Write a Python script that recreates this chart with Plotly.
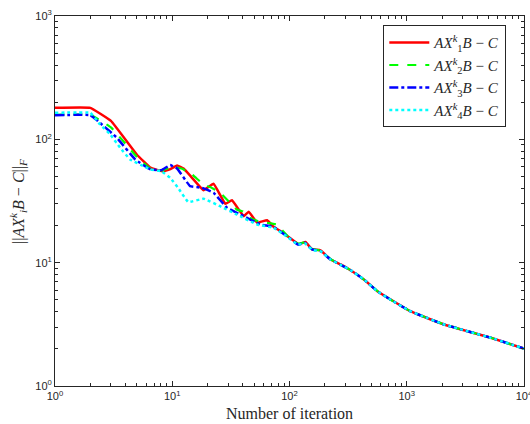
import plotly.graph_objects as go

# ---- data ----
red_iter = [1, 2, 3, 5, 6.5, 8.2, 9.5, 11, 12.5, 14.7, 18.5, 22.5, 28.4, 32.3, 40.7, 44.9, 52.9, 64.4, 73.4,
            84, 96, 120, 137, 156, 184, 224, 273, 332, 431, 561, 729, 1047, 1318, 2085, 3300, 5210, 10000]
red_val = [180, 180, 141, 75, 59, 55, 57, 61.4, 58, 49, 38.7, 43.6, 30, 32.1, 23.8, 25.9, 21.1, 22.1, 19.5,
           18, 16.4, 14.1, 14.7, 12.8, 12.6, 10.6, 9.67, 8.69, 7.31, 5.87, 5.03, 4.09, 3.73, 3.15, 2.78, 2.46, 2.01]

green_iter = [1, 2, 3, 5, 6.5, 8.2, 10, 12, 14.7, 18.5, 21, 25.6, 35.4, 40, 46, 55, 65, 78,
              96, 118, 135, 156, 184, 224, 273, 332, 431, 561, 729, 1047, 1318, 2085, 3300, 5210, 10000]
green_val = [158, 158, 125, 72, 58, 56, 60, 58, 52, 43, 41, 37, 27, 26, 23.1, 21.5, 21, 20.4,
             16.5, 14.3, 14.6, 12.9, 12.5, 10.7, 9.6, 8.7, 7.3, 5.9, 5.0, 4.1, 3.73, 3.15, 2.78, 2.46, 2.01]

blue_iter = [1, 2, 2.42, 3.37, 4.83, 6.5, 8.1, 9.6, 11, 14.2, 17.9, 22.5, 29.3, 38, 56.5, 73,
             96, 118, 135, 156, 184, 224, 273, 332, 431, 561, 729, 1047, 1318, 2085, 3300, 5210, 10000]
blue_val = [157, 157, 136, 103, 68.7, 57, 56.3, 61.8, 58, 41.7, 40.5, 36.9, 27.9, 24.6, 20.4, 19.5,
            16.3, 14.0, 14.5, 12.8, 12.4, 10.6, 9.6, 8.7, 7.3, 5.87, 5.0, 4.09, 3.73, 3.15, 2.78, 2.46, 2.01]

cyan_iter = [1, 2, 2.42, 2.95, 3.59, 4.37, 5.7, 6.5, 8.1, 9.6, 11.3, 13.7, 18.5, 25.6, 35.4, 52.9, 73,
             96, 118, 135, 156, 184, 224, 273, 332, 431, 561, 729, 1047, 1318, 2085, 3300, 5210, 10000]
cyan_val = [164, 164, 132, 110, 85.5, 68.7, 60.6, 57, 55, 48.8, 40, 31, 33, 28.7, 24.6, 20.4, 19.2,
            16.2, 14.0, 14.4, 12.7, 12.4, 10.6, 9.6, 8.7, 7.3, 5.87, 5.0, 4.09, 3.73, 3.15, 2.78, 2.46, 2.01]

series_names = [
    "<i>AX</i><sup><i>k</i></sup><sub>1</sub><i>B</i> − <i>C</i>",
    "<i>AX</i><sup><i>k</i></sup><sub>2</sub><i>B</i> − <i>C</i>",
    "<i>AX</i><sup><i>k</i></sup><sub>3</sub><i>B</i> − <i>C</i>",
    "<i>AX</i><sup><i>k</i></sup><sub>4</sub><i>B</i> − <i>C</i>",
]
x_title = "Number of iteration"
y_title = "||<i>AX</i><sup><i>k</i></sup><sub><i>i</i></sub><i>B</i> − <i>C</i>||<sub><i>F</i></sub>"

x_major = [1, 10, 100, 1000, 10000]
x_major_text = ["10<sup>0</sup>", "10<sup>1</sup>", "10<sup>2</sup>", "10<sup>3</sup>", "10<sup>4</sup>"]
y_major = [1, 10, 100, 1000]
y_major_text = ["10<sup>0</sup>", "10<sup>1</sup>", "10<sup>2</sup>", "10<sup>3</sup>"]

minor_x = [m * 10 ** e for e in range(0, 4) for m in range(2, 10)]
minor_y = [m * 10 ** e for e in range(0, 3) for m in range(2, 10)]

fig = go.Figure()
styles = [
    dict(color="#FF0000", width=2.5, dash="solid"),
    dict(color="#00FF00", width=2.2, dash="dash"),
    dict(color="#0000FF", width=2.5, dash="dashdot"),
    dict(color="#00FFFF", width=2.5, dash="dot"),
]
data = [(red_iter, red_val), (green_iter, green_val), (blue_iter, blue_val), (cyan_iter, cyan_val)]
for (xs, ys), name, st in zip(data, series_names, styles):
    fig.add_trace(go.Scatter(x=xs, y=ys, mode="lines", name=name,
                             line=dict(shape="spline", smoothing=0.25, **st)))

axis_common = dict(
    type="log", showgrid=False, zeroline=False, showline=True, linecolor="#262626", linewidth=1,
    mirror="ticks", ticks="inside", ticklen=5, tickcolor="#262626", automargin=False,
    ticklabeloverflow="allow",
    tickfont=dict(family="Liberation Sans, Arial, sans-serif", size=11, color="#262626"),
)

fig.update_xaxes(**axis_common, range=[0, 4], tickmode="array", tickvals=x_major, ticktext=x_major_text,
                 minor=dict(ticks="inside", ticklen=3, tickcolor="#262626", tickmode="array", tickvals=minor_x))
fig.update_yaxes(**axis_common, range=[0, 3], tickmode="array", tickvals=y_major, ticktext=y_major_text,
                 minor=dict(ticks="inside", ticklen=3, tickcolor="#262626", tickmode="array", tickvals=minor_y))

serif = "Liberation Serif, Times New Roman, serif"
fig.add_annotation(text=x_title, xref="paper", yref="paper", x=0.5, y=-0.074,
                   xanchor="center", yanchor="middle", showarrow=False,
                   font=dict(family=serif, size=16, color="#262626"))
fig.add_annotation(text=y_title, xref="paper", yref="paper", x=-0.079, y=0.5, textangle=-90,
                   xanchor="center", yanchor="middle", showarrow=False,
                   font=dict(family=serif, size=16, color="#262626"))

fig.update_layout(
    width=530, height=424,
    margin=dict(l=55, r=6, t=16, b=38, autoexpand=False),
    paper_bgcolor="white", plot_bgcolor="white",
    showlegend=True,
    legend=dict(x=0.70, y=0.975, xanchor="left", yanchor="top",
                bgcolor="white", bordercolor="#262626", borderwidth=1,
                font=dict(family=serif, size=15, color="#262626"),
                tracegroupgap=0, itemwidth=40),
)

fig.write_html("out.html", config={"displayModeBar": False},
               post_script="document.body.style.margin='0px';")
